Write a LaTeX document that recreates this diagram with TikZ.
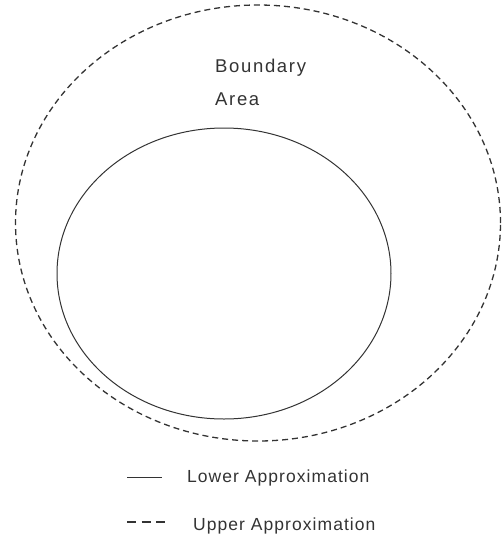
\documentclass[tikz,border=0pt]{standalone}
\usepackage{fontspec}
\setmainfont{Liberation Sans}
\newfontfamily\titlefont[LetterSpace=9]{Liberation Sans}
\newfontfamily\legfont[LetterSpace=6]{Liberation Sans}
\usetikzlibrary{shapes.geometric}
\definecolor{ink}{HTML}{333333}
\begin{document}
\begin{tikzpicture}[x=1pt,y=-1pt,
  lbl/.style={anchor=base west,inner sep=0pt,text=ink,font=\titlefont\fontsize{18.5}{22}\selectfont},
  leg/.style={anchor=base west,inner sep=0pt,text=ink,font=\legfont\fontsize{17.5}{21}\selectfont},
  upper/.style={draw=ink,line width=1.3pt,dash pattern=on 6pt off 4pt},
  lower/.style={draw=ink,line width=1pt},
  legdash/.style={draw=ink,line width=1.4pt,dash pattern=on 9pt off 5.5pt}]
\useasboundingbox (0,0) rectangle (503,539);
\node[ellipse,upper,minimum width=485pt,minimum height=436pt,inner sep=0pt] (outer) at (258,223) {};
\node[ellipse,lower,minimum width=334pt,minimum height=291pt,inner sep=0pt] (inner) at (224,273.5) {};
\node[lbl] (t1) at (215,72) {Boundary};
\node[lbl] (t2) at (215,105) {Area};
\coordinate (l1a) at (127,477);
\coordinate (l1b) at (162,477);
\draw[lower] (l1a) -- (l1b);
\node[leg] (leg1) at (187,482) {Lower Approximation};
\coordinate (l2a) at (127,522);
\coordinate (l2b) at (165,522);
\draw[legdash] (l2a) -- (l2b);
\node[leg] (leg2) at (193,530) {Upper Approximation};
\end{tikzpicture}
\end{document}
